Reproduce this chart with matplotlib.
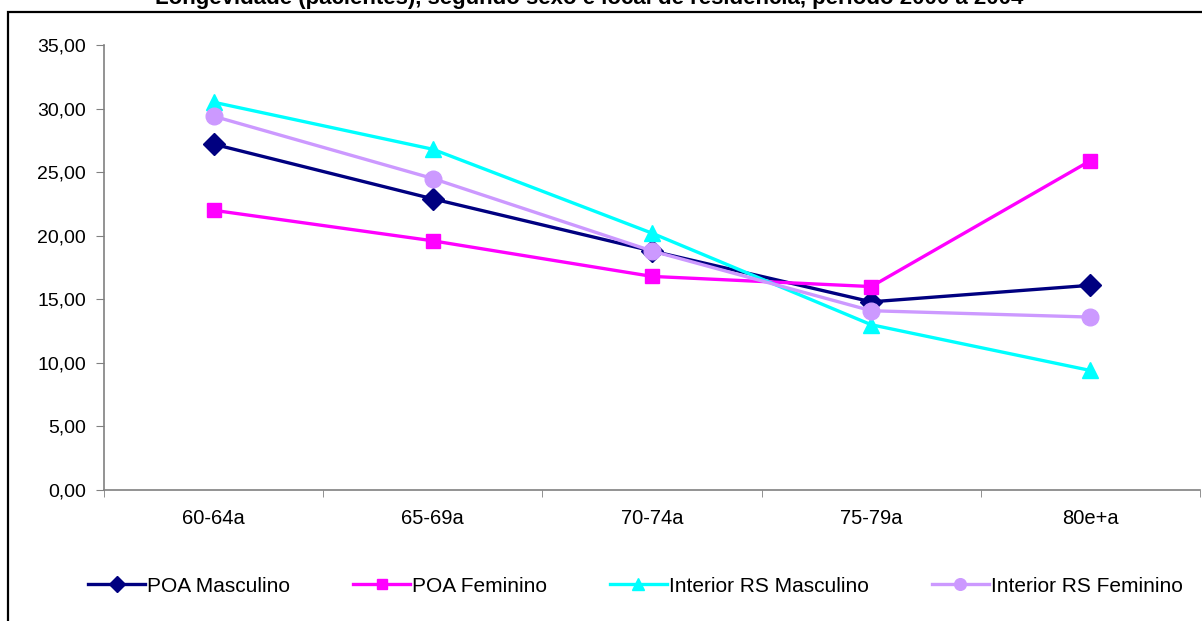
import matplotlib.pyplot as plt
from matplotlib.patches import Rectangle
from matplotlib.ticker import FixedLocator, FuncFormatter

plt.rcParams['font.family'] = ['Liberation Sans', 'DejaVu Sans']

# faixas etárias e percentuais por grupo
faixas = ['60-64a', '65-69a', '70-74a', '75-79a', '80e+a']
poa_masc = [27.2, 22.9, 18.8, 14.8, 16.1]
poa_fem = [22.0, 19.6, 16.8, 16.0, 25.9]
int_masc = [30.5, 26.8, 20.2, 13.0, 9.4]
int_fem = [29.4, 24.5, 18.8, 14.1, 13.6]

series = [
    ('POA Masculino', poa_masc, '#000080', 'D', 11),
    ('POA Feminino', poa_fem, '#FF00FF', 's', 10),
    ('Interior RS Masculino', int_masc, '#00FFFF', '^', 12),
    ('Interior RS Feminino', int_fem, '#CC99FF', 'o', 12),
]

fig = plt.figure(figsize=(12.02, 6.21), dpi=100)
ax = fig.add_axes([104 / 1202, 131 / 621, 1096 / 1202, 445 / 621])

x = list(range(len(faixas)))
for nome, vals, cor, mk, ms in series:
    ax.plot(x, vals, color=cor, lw=2.4, marker=mk, ms=ms, label=nome)

ax.set_xlim(-0.5, len(faixas) - 0.5)
ax.set_ylim(0, 35)
ax.set_yticks(range(0, 36, 5))
ax.yaxis.set_major_formatter(FuncFormatter(lambda v, p: f'{v:.2f}'.replace('.', ',')))
ax.set_xticks(x)
ax.set_xticklabels(faixas)
ax.xaxis.set_minor_locator(FixedLocator([i - 0.5 for i in range(len(faixas) + 1)]))
ax.tick_params(axis='x', which='major', length=0, pad=14, labelsize=14.5)
ax.tick_params(axis='x', which='minor', length=5, color='#808080')
ax.tick_params(axis='y', length=6, color='#808080', labelsize=14, pad=7)

for s in ['top', 'right']:
    ax.spines[s].set_visible(False)
for s in ['left', 'bottom']:
    ax.spines[s].set_color('#808080')
    ax.spines[s].set_linewidth(1.2)

fig.legend(*ax.get_legend_handles_labels(), loc='center left',
           bbox_to_anchor=(88 / 1202, 1 - 586 / 621), ncol=4, frameon=False,
           fontsize=15, handlelength=2.75, handletextpad=0.1, columnspacing=3.0,
           borderpad=0, borderaxespad=0, markerscale=0.7)

# moldura da área do gráfico
fig.patches.append(Rectangle((8 / 1202, -0.1), 1.2, 1.1 - 12 / 621,
                             transform=fig.transFigure, fill=False,
                             edgecolor='black', lw=1.6))

fig.text(0.49, 1 - 4 / 621, 'Longevidade (pacientes), segundo sexo e local de residência, período 2000 a 2004',
         ha='center', va='baseline', fontsize=16, fontweight='bold')

fig.savefig('out.png', dpi=100)
